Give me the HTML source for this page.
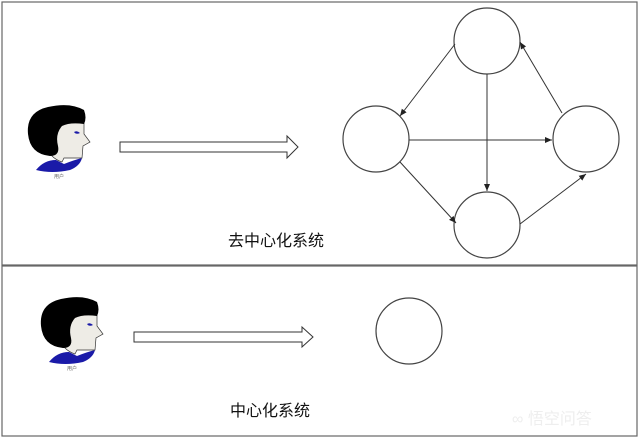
<!DOCTYPE html>
<html><head><meta charset="utf-8"><style>
html,body{margin:0;padding:0;background:#fff;}
svg{display:block;}
</style></head><body>
<svg width="640" height="439" viewBox="0 0 640 439" xmlns="http://www.w3.org/2000/svg">
<defs>
<marker id="ah" markerWidth="8" markerHeight="8" refX="7" refY="4" orient="auto" markerUnits="userSpaceOnUse">
<path d="M0,1 L7,4 L0,7 Z" fill="#222"/>
</marker>
<g id="face">
<path d="M36,170 Q44,160 56,160 L64,164 Q74,160 82,158 Q80,166 70,170 Q52,174 36,170 Z" fill="#1a1aa8"/>
<path d="M50,150 L52,128 Q62,114 84,114 L84,134 L90,142 L83,146 L82,158 L64,158 L62,162 Q56,160 52,156 Z" fill="#eeece6" stroke="#333" stroke-width="0.7"/>
<path d="M28,134 Q26,112 48,107 Q70,102 84,110 Q87,118 84,124 Q70,122 62,126 Q55,134 58,146 Q60,156 50,156 Q30,154 28,134 Z" fill="#000"/>
<path d="M74,132 Q77,130 80,133 Q76,135 74,132 Z" fill="#1a1aa8"/>
<text x="54" y="178" font-size="5" fill="#666" font-family="'Liberation Sans','Noto Sans CJK SC',sans-serif">用户</text>
</g>
</defs>
<rect x="2" y="2" width="635" height="263" fill="none" stroke="#666" stroke-width="1.2"/>
<rect x="2" y="266" width="635" height="170" fill="none" stroke="#666" stroke-width="1.2"/>
<use href="#face"/>
<use href="#face" transform="translate(13,192)"/>
<path d="M120,142 L287,142 L287,136 L298,147 L287,158 L287,152 L120,152 Z" fill="#fff" stroke="#333" stroke-width="1"/>
<path d="M134,332 L302,332 L302,327 L313,337 L302,347 L302,342 L134,342 Z" fill="#fff" stroke="#333" stroke-width="1"/>
<g fill="#fff" stroke="#444" stroke-width="1.2">
<circle cx="487" cy="41" r="33"/>
<circle cx="376" cy="139" r="33"/>
<circle cx="586" cy="139" r="33"/>
<circle cx="487" cy="225" r="33"/>
<circle cx="409" cy="331" r="33"/>
</g>
<g stroke="#333" stroke-width="1" marker-end="url(#ah)">
<line x1="455" y1="44" x2="400" y2="116"/>
<line x1="487" y1="74" x2="487" y2="191"/>
<line x1="409" y1="140" x2="552" y2="140"/>
<line x1="400" y1="162" x2="456" y2="223"/>
<line x1="520" y1="224" x2="586" y2="174"/>
<line x1="562" y1="113" x2="520" y2="42"/>
</g>
<text x="228" y="246" font-size="16" fill="#111" font-family="'Liberation Sans','Noto Sans CJK SC',sans-serif">去中心化系统</text>
<text x="230" y="416" font-size="16" fill="#111" font-family="'Liberation Sans','Noto Sans CJK SC',sans-serif">中心化系统</text>
<text x="512" y="424" font-size="16" fill="#eeeeee" font-family="'Liberation Sans','Noto Sans CJK SC',sans-serif">∞ 悟空问答</text>
</svg>
</body></html>
